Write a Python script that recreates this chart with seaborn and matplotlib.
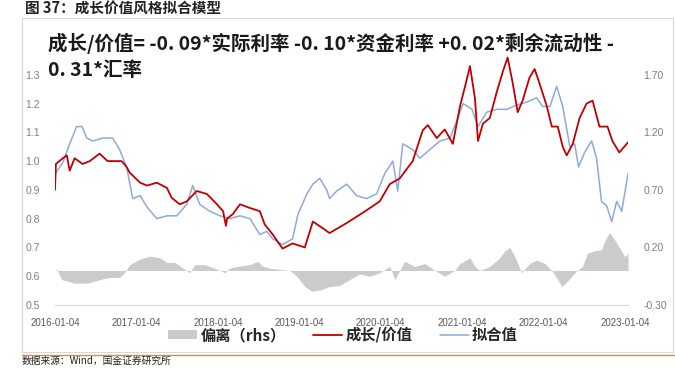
import pandas as pd
import matplotlib
matplotlib.use("Agg")
import matplotlib.pyplot as plt
from matplotlib.patches import Patch, Rectangle
from matplotlib.lines import Line2D
import seaborn as sns

sns.set_theme(style="white")
plt.rcParams["font.family"] = ["Noto Sans CJK SC", "DejaVu Sans"]

RED = "#C00000"
BLUE = "#8EAADB"
GREY = "#CCCACA"

# 成长/价值 (lhs)
ratio_dates = [
    "2016-01-04", "2016-01-08", "2016-02-08", "2016-02-26", "2016-03-10", "2016-04-01",
    "2016-05-07", "2016-06-08", "2016-07-22", "2016-08-27", "2016-10-29", "2016-11-20",
    "2016-12-04", "2017-01-20", "2017-02-20", "2017-04-05", "2017-05-20", "2017-06-11",
    "2017-07-17", "2017-08-17", "2017-10-01", "2017-11-15", "2017-12-31", "2018-01-27",
    "2018-02-09", "2018-02-14", "2018-03-12", "2018-04-13", "2018-05-28", "2018-07-11",
    "2018-08-02", "2018-09-07", "2018-10-21", "2018-12-05", "2019-01-29", "2019-03-06",
    "2019-04-19", "2019-05-20", "2019-08-05", "2019-10-15", "2019-12-31", "2020-02-14",
    "2020-03-30", "2020-05-27", "2020-07-11", "2020-08-03", "2020-09-12", "2020-10-18",
    "2020-11-23", "2020-12-25", "2021-01-17", "2021-02-08", "2021-03-02", "2021-03-16",
    "2021-04-07", "2021-05-08", "2021-06-08", "2021-07-05", "2021-07-27", "2021-08-19",
    "2021-09-10", "2021-10-02", "2021-11-02", "2021-11-25", "2021-12-17", "2022-01-19",
    "2022-02-10", "2022-03-09", "2022-03-31", "2022-04-18", "2022-05-15", "2022-06-15",
    "2022-07-16", "2022-08-12", "2022-09-12", "2022-10-18", "2022-11-09", "2022-12-10",
    "2023-01-18",
]
ratio_values = [
    0.90, 0.99, 1.01, 1.02, 0.967, 1.01,
    0.99, 1.00, 1.026, 1.00, 1.00, 0.98,
    0.96, 0.925, 0.915, 0.925, 0.907, 0.872,
    0.85, 0.86, 0.896, 0.886, 0.85, 0.826,
    0.775, 0.80, 0.816, 0.85, 0.837, 0.826,
    0.78, 0.745, 0.696, 0.714, 0.70, 0.79,
    0.767, 0.75, 0.785, 0.82, 0.86, 0.92,
    0.94, 1.00, 1.107, 1.125, 1.08, 1.11,
    1.06, 1.19, 1.26, 1.33, 1.22, 1.07,
    1.13, 1.15, 1.24, 1.31, 1.36, 1.27,
    1.17, 1.21, 1.29, 1.32, 1.27, 1.19,
    1.12, 1.12, 1.05, 1.02, 1.06, 1.15,
    1.20, 1.21, 1.12, 1.12, 1.07, 1.03,
    1.065,
]

# 拟合值 (lhs)
fit_dates = [
    "2016-01-08", "2016-02-08", "2016-03-10", "2016-04-10", "2016-05-04", "2016-05-26",
    "2016-06-22", "2016-08-05", "2016-09-19", "2016-10-20", "2016-11-20", "2016-12-18",
    "2017-01-20", "2017-02-20", "2017-04-05", "2017-05-20", "2017-07-04", "2017-08-17",
    "2017-09-13", "2017-10-14", "2017-11-28", "2018-01-13", "2018-02-26", "2018-04-13",
    "2018-05-28", "2018-07-11", "2018-08-11", "2018-09-07", "2018-10-21", "2018-12-05",
    "2018-12-29", "2019-02-07", "2019-03-06", "2019-04-06", "2019-05-07", "2019-05-20",
    "2019-06-21", "2019-08-05", "2019-09-18", "2019-11-02", "2019-12-17", "2020-01-22",
    "2020-02-28", "2020-03-21", "2020-04-12", "2020-05-27", "2020-06-28", "2020-08-12",
    "2020-09-26", "2020-11-10", "2020-12-16", "2021-01-08", "2021-02-17", "2021-03-16",
    "2021-04-24", "2021-06-08", "2021-07-23", "2021-09-06", "2021-10-20", "2021-12-04",
    "2021-12-31", "2022-02-02", "2022-03-04", "2022-03-31", "2022-05-02", "2022-05-24",
    "2022-06-10", "2022-07-07", "2022-08-08", "2022-08-30", "2022-09-21", "2022-10-14",
    "2022-11-06", "2022-11-28", "2022-12-21", "2023-01-18",
]
fit_values = [
    0.96, 0.995, 1.06, 1.12, 1.12, 1.08,
    1.07, 1.08, 1.08, 1.04, 0.98, 0.87,
    0.88, 0.84, 0.80, 0.81, 0.81, 0.85,
    0.915, 0.85, 0.826, 0.81, 0.80, 0.81,
    0.80, 0.745, 0.756, 0.73, 0.71, 0.73,
    0.815, 0.886, 0.92, 0.94, 0.90, 0.87,
    0.896, 0.92, 0.88, 0.87, 0.886, 0.956,
    1.00, 0.896, 1.06, 1.04, 1.01, 1.04,
    1.07, 1.08, 1.15, 1.20, 1.18, 1.12,
    1.17, 1.18, 1.18, 1.195, 1.205, 1.22,
    1.19, 1.19, 1.26, 1.19, 1.05, 1.06,
    0.98, 1.03, 1.07, 1.01, 0.86, 0.845,
    0.79, 0.86, 0.826, 0.956,
]

# 偏离 (rhs)
dev_dates = [
    "2016-01-08", "2016-02-04", "2016-04-01", "2016-05-30", "2016-07-22", "2016-09-05",
    "2016-10-20", "2016-11-11", "2016-12-04", "2017-01-20", "2017-03-05", "2017-04-18",
    "2017-05-20", "2017-06-25", "2017-08-08", "2017-08-30", "2017-09-22", "2017-11-05",
    "2017-12-20", "2018-02-04", "2018-02-26", "2018-04-13", "2018-05-28", "2018-07-02",
    "2018-07-20", "2018-08-24", "2018-10-08", "2018-11-22", "2018-12-24", "2019-01-29",
    "2019-03-01", "2019-04-06", "2019-05-20", "2019-07-04", "2019-08-18", "2019-10-01",
    "2019-11-15", "2019-12-31", "2020-02-14", "2020-03-08", "2020-03-30", "2020-04-21",
    "2020-06-05", "2020-07-20", "2020-09-03", "2020-10-18", "2020-12-02", "2020-12-25",
    "2021-02-08", "2021-03-02", "2021-03-25", "2021-05-08", "2021-06-22", "2021-07-14",
    "2021-08-06", "2021-08-28", "2021-09-28", "2021-11-02", "2021-12-04", "2022-01-10",
    "2022-02-10", "2022-03-09", "2022-03-27", "2022-04-18", "2022-05-15", "2022-06-05",
    "2022-06-28", "2022-07-20", "2022-08-20", "2022-09-21", "2022-10-09", "2022-10-27",
    "2022-11-18", "2022-12-10", "2023-01-04", "2023-01-18",
]
dev_values = [
    0.02, -0.08, -0.11, -0.11, -0.08, -0.06,
    -0.06, -0.02, 0.05, 0.10, 0.125, 0.11,
    0.07, 0.07, 0.01, -0.02, 0.05, 0.05,
    0.02, -0.02, 0.02, 0.04, 0.05, 0.08,
    0.04, 0.02, 0.01, 0.00, -0.05, -0.14,
    -0.18, -0.17, -0.14, -0.13, -0.08, -0.03,
    -0.05, -0.02, 0.035, -0.08, 0.00, 0.08,
    0.035, 0.06, 0.00, -0.05, 0.00, 0.06,
    0.11, 0.035, 0.00, 0.035, 0.11, 0.17,
    0.20, 0.12, -0.02, 0.06, 0.09, 0.06,
    0.00, -0.08, -0.14, -0.10, -0.04, 0.00,
    0.035, 0.15, 0.17, 0.18, 0.27, 0.33,
    0.27, 0.20, 0.12, 0.15,
]

tick_labels = ["2016-01-04", "2017-01-04", "2018-01-04", "2019-01-04",
               "2020-01-04", "2021-01-04", "2022-01-04", "2023-01-04"]
left_ticks = [0.5, 0.6, 0.7, 0.8, 0.9, 1.0, 1.1, 1.2, 1.3]
right_ticks = [-0.30, 0.20, 0.70, 1.20, 1.70]

ratio = pd.DataFrame({"date": pd.to_datetime(ratio_dates), "value": ratio_values})
fit = pd.DataFrame({"date": pd.to_datetime(fit_dates), "value": fit_values})
dev = pd.DataFrame({"date": pd.to_datetime(dev_dates), "value": dev_values})

W, H = 675, 368
fig = plt.figure(figsize=(W / 100, H / 100), dpi=100)
fig.patch.set_facecolor("white")

ax = fig.add_axes([55 / W, 1 - 305 / H, (628 - 55) / W, (305 - 46) / H])
ax2 = ax.twinx()

# deviation bars behind the lines
ax2.fill_between(dev["date"], dev["value"], 0, color=GREY, lw=0)
ax.set_zorder(ax2.get_zorder() + 1)
ax.patch.set_visible(False)

sns.lineplot(data=fit, x="date", y="value", ax=ax, color=BLUE, lw=1.1)
sns.lineplot(data=ratio, x="date", y="value", ax=ax, color=RED, lw=1.3)

ax.set_xlim(pd.Timestamp("2016-01-04"), pd.Timestamp("2023-01-18"))
ax.set_ylim(0.5, 1.4)
ax2.set_ylim(-0.30, 1.95)
ax.set_xlabel("")
ax.set_ylabel("")

ax.set_xticks(pd.to_datetime(tick_labels))
ax.set_xticklabels(tick_labels, fontsize=7, color="#595959", family="Liberation Sans")
ax.set_yticks(left_ticks)
ax.set_yticklabels([f"{v:.1f}" for v in left_ticks], fontsize=7.5, color="#7F7F7F",
                   family="Liberation Sans")
ax2.set_yticks(right_ticks)
ax2.set_yticklabels([f"{v:.2f}" for v in right_ticks], fontsize=7.5, color="#7F7F7F",
                    family="Liberation Sans")

ax.tick_params(axis="y", length=0, pad=11)
ax2.tick_params(axis="y", length=0, pad=11)
ax.tick_params(axis="x", length=3, width=0.6, color="#D9D9D9", pad=6, direction="out")
for a in (ax, ax2):
    for side in ("top", "left", "right"):
        a.spines[side].set_visible(False)
    a.spines["bottom"].set_color("#D9D9D9")
    a.spines["bottom"].set_linewidth(0.8)
ax2.spines["bottom"].set_visible(False)

# formula title inside the chart
title_kw = dict(fontsize=14, weight="bold", color="#1A1A1A", va="center", ha="left")
fig.text(48 / W, 1 - 43 / H,
         "成长/价值= -0. 09*实际利率 -0. 10*资金利率 +0. 02*剩余流动性 -", **title_kw)
fig.text(48 / W, 1 - 70 / H, "0. 31*汇率", **title_kw)

# figure caption
fig.text(25 / W, 1 - 8 / H, "图 37：成长价值风格拟合模型", fontsize=10.5, weight="bold",
         color="#222222", va="center", ha="left")

handles = [Patch(facecolor=GREY, edgecolor="none"),
           Line2D([0], [0], color=RED, lw=1.3),
           Line2D([0], [0], color=BLUE, lw=1.1)]
labels = ["偏离（rhs）", "成长/价值", "拟合值"]
fig.legend(handles, labels, loc="center", bbox_to_anchor=(343 / W, 1 - 335 / H), ncol=3,
           frameon=False, prop={"weight": "bold", "size": 11}, handlelength=1.9,
           handleheight=0.6, handletextpad=0.2, columnspacing=1.8)

# chart frame, rule and source line
fig.add_artist(Rectangle((22 / W, 1 - 352 / H), (673 - 22) / W, (352 - 18) / H,
                         transform=fig.transFigure, fill=False, ec="#D9D9D9", lw=0.8))
fig.add_artist(Line2D([22 / W, 1], [1 - 355 / H] * 2, transform=fig.transFigure,
                      color="#C8914F", lw=1.0))
fig.text(22 / W, 1 - 366 / H, "数据来源：Wind，国金证券研究所", fontsize=7,
         color="#222222", va="bottom", ha="left")

fig.savefig("out.png", dpi=100)
